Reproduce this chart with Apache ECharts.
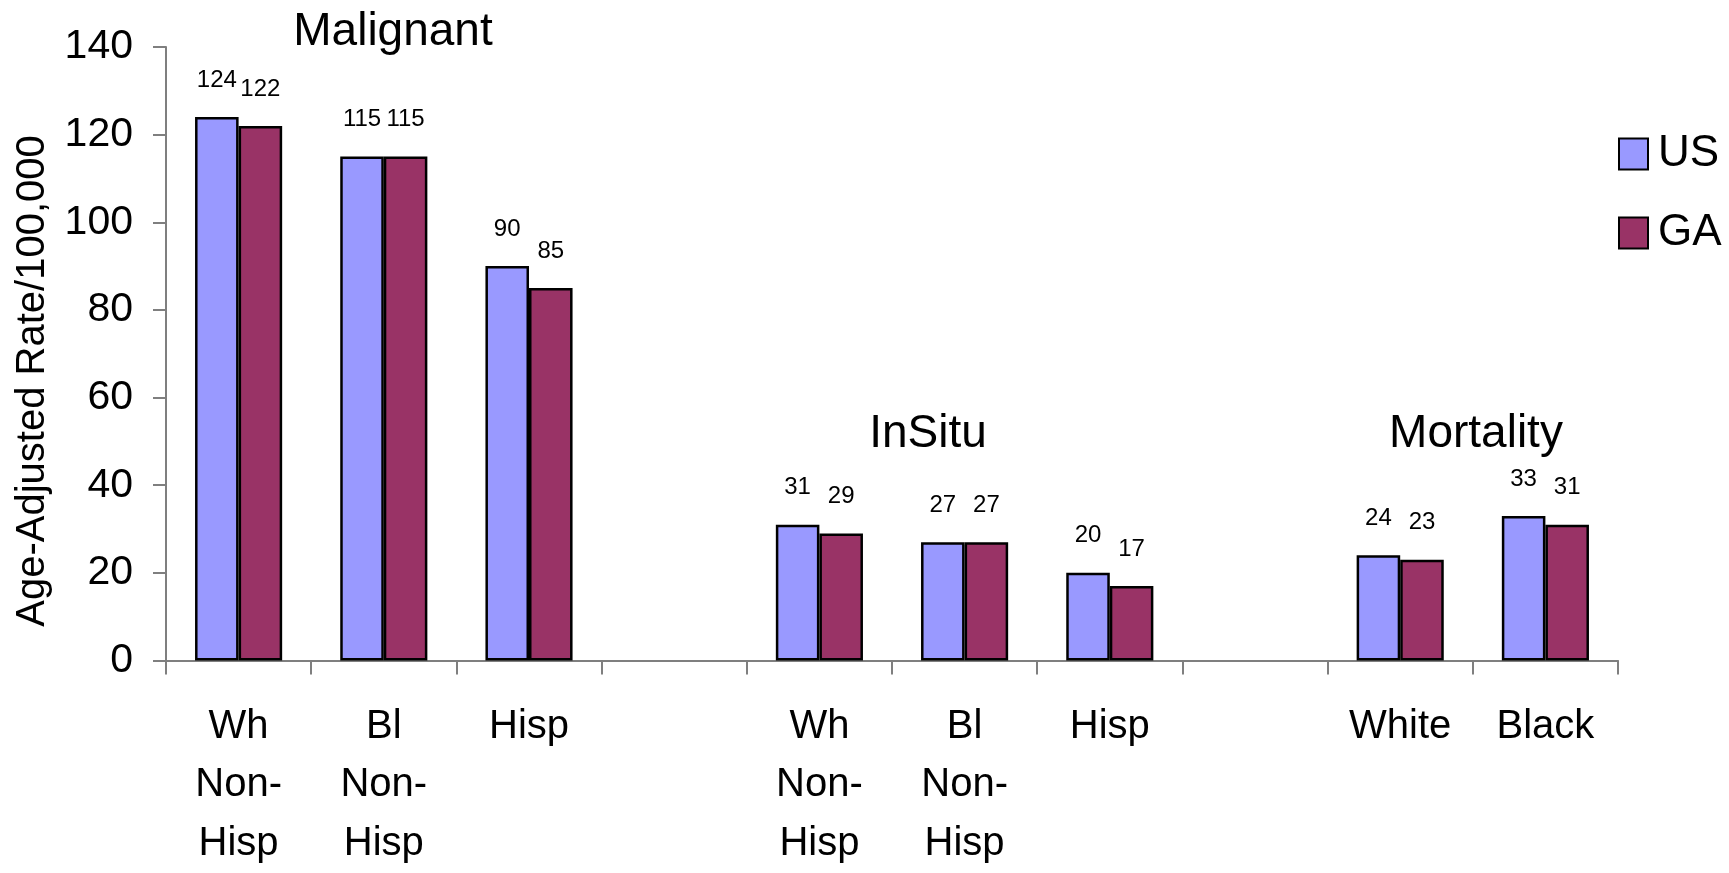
<!DOCTYPE html>
<html>
<head>
<meta charset="utf-8">
<script src="https://cdn.jsdelivr.net/npm/echarts@6/dist/echarts.min.js"></script>
<style>
  html, body { margin: 0; padding: 0; background: #fff; }
  #main { width: 1729px; height: 873px; }
</style>
</head>
<body>
<div id="main"></div>
<script>
// categories (blank slots separate the three groups)
const categories = [
  'Wh\nNon-\nHisp', 'Bl\nNon-\nHisp', 'Hisp', '',
  'Wh\nNon-\nHisp', 'Bl\nNon-\nHisp', 'Hisp', '',
  'White', 'Black'
];
const usRates = [124, 115, 90, null, 31, 27, 20, null, 24, 33];
const gaRates = [122, 115, 85, null, 29, 27, 17, null, 23, 31];
const groupTitles = ['Malignant', 'InSitu', 'Mortality'];
const yTicks = { min: 0, max: 140, interval: 20 };

const FONT = '"Liberation Sans", Arial, sans-serif';
const axisGrey = '#7f7f7f';

const chart = echarts.init(document.getElementById('main'));

const barLabel = {
  show: true,
  position: 'top',
  distance: 25,
  color: '#000',
  fontSize: 24,
  fontFamily: FONT
};

const option = {
  backgroundColor: '#fff',
  animation: false,
  grid: { left: 166, right: 111, top: 47, bottom: 206 },
  legend: {
    orient: 'vertical',
    left: 1613,
    top: 127,
    itemWidth: 29,
    itemHeight: 31,
    itemGap: 35,
    icon: 'rect',
    textStyle: { fontSize: 44, fontFamily: FONT, color: '#000', padding: [0, 0, 0, 5] },
    data: ['US', 'GA']
  },
  xAxis: {
    type: 'category',
    data: categories,
    axisLine: { lineStyle: { color: axisGrey, width: 2 } },
    axisTick: { show: true, length: 14, lineStyle: { color: axisGrey, width: 2 } },
    axisLabel: {
      interval: 0,
      margin: 37,
      color: '#000',
      fontSize: 40,
      lineHeight: 58.5,
      fontFamily: FONT
    }
  },
  yAxis: {
    type: 'value',
    min: yTicks.min,
    max: yTicks.max,
    interval: yTicks.interval,
    splitLine: { show: false },
    axisLine: { show: true, lineStyle: { color: axisGrey, width: 2 } },
    axisTick: { show: true, length: 13, lineStyle: { color: axisGrey, width: 2 } },
    axisLabel: { margin: 33, color: '#000', fontSize: 41, fontFamily: FONT }
  },
  graphic: [
    {
      type: 'text', x: 33, y: 381, rotation: Math.PI / 2,
      style: { text: 'Age-Adjusted Rate/100,000', font: '40px ' + FONT, fill: '#000', textAlign: 'center', textVerticalAlign: 'middle' }
    },
    {
      type: 'text', x: 393, y: 32,
      style: { text: groupTitles[0], font: '46px ' + FONT, fill: '#000', textAlign: 'center', textVerticalAlign: 'middle' }
    },
    {
      type: 'text', x: 928, y: 434,
      style: { text: groupTitles[1], font: '46px ' + FONT, fill: '#000', textAlign: 'center', textVerticalAlign: 'middle' }
    },
    {
      type: 'text', x: 1476, y: 434,
      style: { text: groupTitles[2], font: '46px ' + FONT, fill: '#000', textAlign: 'center', textVerticalAlign: 'middle' }
    }
  ],
  series: [
    {
      name: 'US',
      type: 'bar',
      data: usRates,
      barGap: '0%',
      barCategoryGap: '40%',
      itemStyle: { color: '#9999ff', borderColor: '#000', borderWidth: 2.5 },
      label: barLabel
    },
    {
      name: 'GA',
      type: 'bar',
      data: gaRates,
      barGap: '0%',
      barCategoryGap: '40%',
      itemStyle: { color: '#993366', borderColor: '#000', borderWidth: 2.5 },
      label: barLabel
    }
  ]
};

chart.setOption(option);
</script>
</body>
</html>
